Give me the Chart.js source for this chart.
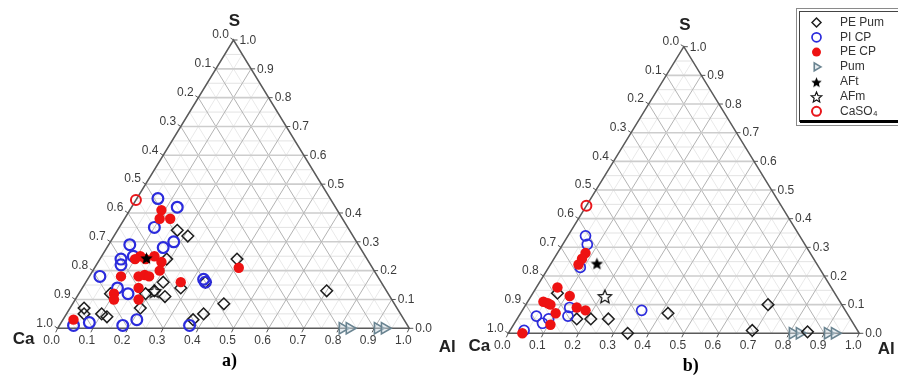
<!DOCTYPE html>
<html>
<head>
<meta charset="utf-8">
<script src="https://cdn.jsdelivr.net/npm/chart.js@4.4.0/dist/chart.umd.min.js"></script>
<style>
  html, body { margin: 0; padding: 0; background: #fff; }
  #wrap { position: relative; width: 898px; height: 378px; overflow: hidden; }
  #wrap canvas { position: absolute; left: 0; top: 0; }
</style>
</head>
<body>
<div id="wrap">
  <canvas id="plotA" width="898" height="378"></canvas>
  <canvas id="plotB" width="898" height="378"></canvas>
</div>
<script>
// compositions as [Al, S] fractions, Ca is the remainder (1 - Al - S)

// a) series
const pePumA = [[0.17, 0.34], [0.21, 0.32], [0.19, 0.24], [0.39, 0.24], [0.22, 0.16], [0.28, 0.14],
  [0.21, 0.13], [0.25, 0.11], [0.19, 0.12], [0.43, 0.085], [0.20, 0.07], [0.04, 0.07], [0.05, 0.05],
  [0.10, 0.05], [0.12, 0.04], [0.39, 0.05], [0.37, 0.03], [0.70, 0.13], [0.09, 0.12], [0.34, 0.16]]
const piCpA = [[0.06, 0.45], [0.13, 0.42], [0.10, 0.35], [0.18, 0.30], [0.06, 0.29], [0.16, 0.28],
  [0.06, 0.24], [0.07, 0.22], [0.09, 0.25], [0.03, 0.18], [0.33, 0.17], [0.34, 0.16], [0.10, 0.14],
  [0.14, 0.12], [0.04, 0.01], [0.08, 0.02], [0.18, 0.01], [0.21, 0.03], [0.37, 0.01]]
const peCpA = [[0.09, 0.41], [0.10, 0.38], [0.13, 0.38], [0.11, 0.25], [0.10, 0.24], [0.13, 0.24],
  [0.15, 0.25], [0.18, 0.23], [0.19, 0.20], [0.09, 0.18], [0.14, 0.18], [0.155, 0.185], [0.17, 0.18],
  [0.27, 0.16], [0.41, 0.21], [0.16, 0.14], [0.10, 0.12], [0.11, 0.10], [0.18, 0.10], [0.03, 0.03]]

// b) series
const pePumB = [[0.07, 0.14], [0.17, 0.05], [0.21, 0.05], [0.26, 0.05], [0.34, 0.0], [0.42, 0.07],
  [0.69, 0.10], [0.69, 0.01], [0.85, 0.005]]
const piCpB = [[0.05, 0.34], [0.07, 0.31], [0.09, 0.23], [0.13, 0.09], [0.14, 0.06], [0.05, 0.06],
  [0.08, 0.035], [0.09, 0.05], [0.04, 0.01], [0.34, 0.08]]
const peCpB = [[0.08, 0.28], [0.08, 0.26], [0.08, 0.24], [0.06, 0.16], [0.11, 0.13], [0.045, 0.11],
  [0.06, 0.105], [0.07, 0.10], [0.10, 0.07], [0.105, 0.03], [0.15, 0.09], [0.18, 0.08], [0.04, 0.0]]

// reference phases, same in both diagrams
const pum = [[0.81, 0], [0.83, 0], [0.91, 0], [0.93, 0]]
const aft = [[0.13, 0.245]]
const afm = [[0.21, 0.13]]
const caso4 = [[0, 0.445]]

const tickLabels = ['0.0', '0.1', '0.2', '0.3', '0.4', '0.5', '0.6', '0.7', '0.8', '0.9', '1.0']
const legendOrder = ['PE Pum', 'PI CP', 'PE CP', 'Pum', 'AFt', 'AFm', 'CaSO₄']

// Al/S fractions -> x/y of an equilateral layout
const toPoints = arr => arr.map(([al, s]) => ({ x: al + s / 2, y: s }))

// five point stars, Chart.js 'star' is an asterisk
function starImage(r, filled) {
  const c = document.createElement('canvas')
  const size = Math.ceil(r * 2 + 4)
  c.width = c.height = size
  const g = c.getContext('2d')
  g.beginPath()
  for (let i = 0; i < 10; i++) {
    const rr = i % 2 ? r * 0.45 : r
    const a = -Math.PI / 2 + i * Math.PI / 5
    g.lineTo(size / 2 + rr * Math.cos(a), size / 2 + 1 + rr * Math.sin(a))
  }
  g.closePath()
  if (filled) {
    g.fillStyle = '#000'
    g.fill()
  } else {
    g.strokeStyle = '#111'
    g.lineWidth = 1.2
    g.stroke()
  }
  return c
}
const starFilled = starImage(6.5, true)
const starOpen = starImage(7, false)
const keyStars = { 'AFt': starImage(5.5, true), 'AFm': starImage(5.5, false) }

function seriesFor(pePum, piCp, peCp, big) {
  return [
    { label: 'AFt', data: toPoints(aft), pointStyle: starFilled, pointRadius: 6,
      borderColor: '#000', backgroundColor: '#000', borderWidth: 0, order: 0 },
    { label: 'AFm', data: toPoints(afm), pointStyle: starOpen, pointRadius: 6,
      borderColor: '#111', backgroundColor: 'transparent', borderWidth: 1, order: 0 },
    { label: 'CaSO₄', data: toPoints(caso4), pointStyle: 'circle', pointRadius: 5,
      borderColor: '#e8161b', backgroundColor: 'transparent', borderWidth: 2, order: 1 },
    { label: 'PE CP', data: toPoints(peCp), pointStyle: 'circle', pointRadius: 5.2,
      borderColor: '#ee1212', backgroundColor: '#ee1212', borderWidth: 0, order: 2 },
    { label: 'PI CP', data: toPoints(piCp), pointStyle: 'circle', pointRadius: big ? 5.4 : 5,
      borderColor: '#2b2bdc', backgroundColor: 'transparent', borderWidth: big ? 2.2 : 1.7, order: 3 },
    { label: 'PE Pum', data: toPoints(pePum), pointStyle: 'rectRot', pointRadius: 5.8,
      borderColor: '#1e1e1e', backgroundColor: 'transparent', borderWidth: 1.5, order: 4 },
    { label: 'Pum', data: toPoints(pum), pointStyle: 'triangle', rotation: 90, pointRadius: 6.5,
      borderColor: '#6a8491', backgroundColor: 'rgba(205,218,225,0.5)', borderWidth: 1.6, order: 5 }
  ].map(ds => Object.assign(ds, { clip: false, pointHoverRadius: ds.pointRadius }))
}

function line(ctx, a, b) {
  ctx.beginPath()
  ctx.moveTo(a[0], a[1])
  ctx.lineTo(b[0], b[1])
  ctx.stroke()
}

// triangle mesh, edges, ticks and corner names
const ternaryFrame = {
  id: 'ternaryFrame',
  beforeDatasetsDraw(chart, args, o) {
    const ctx = chart.ctx
    const xs = chart.scales.x
    const ys = chart.scales.y
    const px = (al, s) => [xs.getPixelForValue(al + s / 2), ys.getPixelForValue(s)]
    ctx.save()

    // fine mesh at 0.05
    ctx.lineWidth = 1
    for (let i = 1; i < 20; i += 2) {
      const k = i / 20
      ctx.strokeStyle = '#e3e3e3'
      line(ctx, px(0, k), px(1 - k, k))
      ctx.strokeStyle = '#e9e9e9'
      line(ctx, px(k, 0), px(k, 1 - k))
      line(ctx, px(0, 1 - k), px(1 - k, 0))
    }
    // main mesh at 0.1
    for (let i = 1; i < 10; i++) {
      const k = i / 10
      ctx.strokeStyle = '#cdcdcd'
      ctx.lineWidth = 1.6
      line(ctx, px(0, k), px(1 - k, k))
      ctx.strokeStyle = '#b3b3b3'
      ctx.lineWidth = 1
      line(ctx, px(k, 0), px(k, 1 - k))
      line(ctx, px(0, 1 - k), px(1 - k, 0))
    }

    // outline
    const ca = px(0, 0), al = px(1, 0), s = px(0, 1)
    ctx.strokeStyle = '#5a5a5a'
    ctx.lineWidth = 1.5
    ctx.beginPath()
    ctx.moveTo(ca[0], ca[1])
    ctx.lineTo(al[0], al[1])
    ctx.lineTo(s[0], s[1])
    ctx.closePath()
    ctx.stroke()

    // ticks and tick labels
    ctx.font = '12px "Liberation Sans", Arial, sans-serif'
    ctx.fillStyle = '#3c3c3c'
    ctx.textBaseline = 'middle'
    ctx.strokeStyle = '#555'
    ctx.lineWidth = 1
    tickLabels.forEach((t, i) => {
      const v = i / 10
      let p = px(v, 0)
      line(ctx, p, [p[0] - 2, p[1] + 4])
      ctx.textAlign = 'center'
      ctx.fillText(t, p[0] - 6, p[1] + 12.5)

      p = px(0, 1 - v)
      line(ctx, p, [p[0] - 3, p[1] - 2])
      ctx.fillText(t, p[0] - 13, p[1] - 5)

      p = px(1 - v, v)
      line(ctx, p, [p[0] + 4, p[1]])
      ctx.textAlign = 'left'
      ctx.fillText(t, p[0] + 6, p[1] + 0.5)
    })

    // corner names
    ctx.fillStyle = '#222'
    ctx.textAlign = 'center'
    ctx.font = 'bold 17px "Liberation Sans", Arial, sans-serif'
    ctx.fillText('S', s[0] + o.sDx, s[1] + o.sDy)
    ctx.fillText('Ca', ca[0] + o.caDx, ca[1] + o.caDy)
    ctx.fillText('Al', al[0] + o.alDx, al[1] + o.alDy)

    ctx.fillStyle = '#000'
    ctx.font = 'bold 18px "Liberation Serif", "Times New Roman", serif'
    ctx.fillText(o.caption, s[0] + o.capDx, ca[1] + o.capDy)
    ctx.restore()
  }
}

// boxed key in the top right corner
const legendBox = {
  id: 'legendBox',
  afterDraw(chart, args, o) {
    if (!o.show) return
    const ctx = chart.ctx
    ctx.save()
    ctx.fillStyle = '#fff'
    ctx.fillRect(799, 11, 110, 111)
    ctx.strokeStyle = '#8a8a8a'
    ctx.lineWidth = 1
    ctx.strokeRect(796.5, 8.5, 112, 117)
    ctx.strokeStyle = '#444'
    ctx.strokeRect(799.5, 11.5, 110, 110)
    ctx.fillStyle = '#000'
    ctx.fillRect(800, 120, 100, 3)

    ctx.font = '12px "Liberation Sans", Arial, sans-serif'
    ctx.textBaseline = 'middle'
    ctx.textAlign = 'left'
    legendOrder.forEach((label, i) => {
      const ds = chart.data.datasets.find(d => d.label === label)
      const y = 22.5 + i * 14.8
      ctx.strokeStyle = ds.borderColor
      ctx.fillStyle = ds.backgroundColor
      ctx.lineWidth = ds.borderWidth
      Chart.helpers.drawPoint(ctx, {
        pointStyle: keyStars[label] || ds.pointStyle,
        radius: Math.min(ds.pointRadius, 4.5),
        rotation: ds.rotation || 0,
        borderWidth: ds.borderWidth
      }, 816.5, y)
      ctx.fillStyle = '#333'
      ctx.fillText(label, 840, y)
    })
    ctx.restore()
  }
}

function makePlot(id, datasets, pad, frame, showLegend) {
  return new Chart(document.getElementById(id), {
    type: 'scatter',
    data: { datasets },
    options: {
      responsive: false,
      animation: false,
      events: [],
      layout: { padding: pad },
      scales: {
        x: { type: 'linear', min: 0, max: 1, display: false },
        y: { type: 'linear', min: 0, max: 1, display: false }
      },
      plugins: {
        legend: { display: false },
        tooltip: { enabled: false },
        ternaryFrame: frame,
        legendBox: { show: showLegend }
      }
    },
    plugins: [ternaryFrame, legendBox]
  })
}

makePlot('plotA', seriesFor(pePumA, piCpA, peCpA, true),
  { left: 57.7, right: 488.7, top: 40, bottom: 49.7 },
  { caption: 'a)', sDx: 1, sDy: -19, caDx: -34, caDy: 11, alDx: 38, alDy: 19, capDx: -4, capDy: 33 },
  false)

makePlot('plotB', seriesFor(pePumB, piCpB, peCpB, false),
  { left: 508.3, right: 38.7, top: 46.7, bottom: 44.7 },
  { caption: 'b)', sDx: 1, sDy: -21, caDx: -29, caDy: 13, alDx: 27, alDy: 16, capDx: 7, capDy: 33 },
  true)
</script>
</body>
</html>
